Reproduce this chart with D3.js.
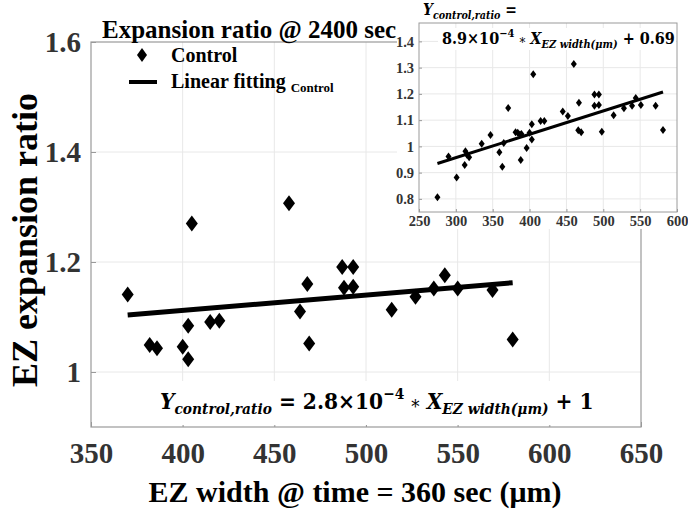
<!DOCTYPE html>
<html>
<head>
<meta charset="utf-8">
<script src="https://cdn.jsdelivr.net/npm/d3@7"></script>
<style>
  body { margin: 0; background: #fff; }
  text { white-space: pre; }
</style>
</head>
<body>
<svg id="chart"></svg>
<script>
// main plot: EZ width at 360 s vs expansion ratio at 2400 s
var ezWidth = [370, 382, 386, 400, 403, 403, 405, 415, 420, 458, 464, 468,
  469, 487, 488, 493, 493, 514, 527, 537, 543, 550, 569, 580];
var expRatio = [1.141, 1.049, 1.043, 1.046, 1.084, 1.023, 1.270, 1.091, 1.093,
  1.307, 1.110, 1.160, 1.052, 1.191, 1.153, 1.191, 1.155, 1.113, 1.137, 1.152,
  1.176, 1.152, 1.149, 1.059];
var fitSlope = 2.8e-4, fitIntercept = 1;
var xTicks = [350, 400, 450, 500, 550, 600, 650];
var yTicks = [1, 1.2, 1.4, 1.6];

// inset: all samples
var insetWidth = [275, 290, 301, 312, 313, 315, 318, 335, 347, 359, 363, 365,
  371, 381, 384, 387, 389, 388, 396, 400, 403, 403, 405, 415, 420, 445, 452,
  460, 467, 466, 470, 488, 494, 488, 494, 498, 514, 528, 539, 544, 551, 571, 581];
var insetRatio = [0.806, 0.961, 0.881, 0.929, 0.981, 0.968, 0.959, 1.010, 1.043,
  0.978, 0.922, 1.013, 1.146, 1.054, 1.052, 1.045, 1.047, 0.948, 0.994, 1.052,
  1.084, 1.026, 1.275, 1.097, 1.097, 1.133, 1.116, 1.314, 1.166, 1.061, 1.054,
  1.198, 1.198, 1.155, 1.158, 1.056, 1.119, 1.145, 1.155, 1.184, 1.158, 1.155, 1.062];
var insetSlope = 8.9e-4, insetIntercept = 0.69;
var insetXTicks = [250, 300, 350, 400, 450, 500, 550, 600];
var insetYTicks = [0.8, 0.9, 1, 1.1, 1.2, 1.3, 1.4];

var W = 688, H = 512;
var serif = "'Liberation Serif', 'Times New Roman', serif";
var mathFont = "'DejaVu Serif', serif";
var gridColor = "#e8e8e8", boxColor = "#9a9a9a", tickColor = "#333";
var nb = "\u00a0";

var svg = d3.select("#chart").attr("width", W).attr("height", H);

function diamond(w, h) {
  return "M0," + (-h / 2) + "L" + (w / 2) + ",0L0," + (h / 2) + "L" + (-w / 2) + ",0Z";
}

// text made of pieces: {t, size, it, shift}
function mathText(g, x, y, parts, anchor, family) {
  var txt = g.append("text").attr("x", x).attr("y", y)
    .attr("text-anchor", anchor || "start")
    .style("font-family", family || serif).style("font-weight", "bold").attr("fill", "#000");
  var prev = 0;
  parts.forEach(function (p) {
    var s = p.shift || 0;
    txt.append("tspan").attr("dy", s - prev)
      .style("font-size", p.size + "px")
      .style("font-style", p.it ? "italic" : "normal")
      .style("font-weight", p.light ? "normal" : "bold")
      .text(p.t);
    prev = s;
  });
  return txt;
}

// squeeze/stretch a text horizontally so it spans x0..x1
function fitWidth(txt, x0, x1) {
  var w = txt.node().getBBox().width;
  var s = (x1 - x0) / w;
  txt.attr("transform", "translate(" + x0 + ",0) scale(" + s + ",1) translate(" + (-x0) + ",0)");
}

// ---------- main axes ----------
var x = d3.scaleLinear().domain([350, 650]).range([91, 641]);
var y = d3.scaleLinear().domain([0.9, 1.6]).range([427, 42]);

var main = svg.append("g");

main.selectAll(".vgrid").data(xTicks.slice(1, -1)).enter().append("line")
  .attr("x1", function (d) { return x(d); }).attr("x2", function (d) { return x(d); })
  .attr("y1", y.range()[0]).attr("y2", y.range()[1])
  .attr("stroke", gridColor).attr("stroke-width", 1);
main.selectAll(".hgrid").data(yTicks.slice(0, -1)).enter().append("line")
  .attr("x1", x.range()[0]).attr("x2", x.range()[1])
  .attr("y1", function (d) { return y(d); }).attr("y2", function (d) { return y(d); })
  .attr("stroke", gridColor).attr("stroke-width", 1);

var xAxis = main.append("g").attr("transform", "translate(0," + y.range()[0] + ")")
  .call(d3.axisBottom(x).tickValues(xTicks).tickSize(-5).tickPadding(10).tickFormat(d3.format("d")));
var yAxis = main.append("g").attr("transform", "translate(" + x.range()[0] + ",0)")
  .call(d3.axisLeft(y).tickValues(yTicks).tickSize(-5).tickPadding(10).tickFormat(function (d) { return d === 1 ? "1" : d3.format(".1f")(d); }));
[xAxis, yAxis].forEach(function (a) {
  a.select(".domain").remove();
  a.selectAll("line").attr("stroke", boxColor);
  a.selectAll("text").style("font-family", serif).style("font-weight", "bold")
    .style("font-size", "29px").attr("fill", tickColor);
});
xAxis.selectAll("text").attr("dy", "0.9em");

main.append("rect")
  .attr("x", x.range()[0]).attr("y", y.range()[1])
  .attr("width", x.range()[1] - x.range()[0]).attr("height", y.range()[0] - y.range()[1])
  .attr("fill", "none").attr("stroke", boxColor).attr("stroke-width", 1.2);

// equation box sits over the grid
main.append("rect").attr("x", 150).attr("y", 381).attr("width", 458).attr("height", 44).attr("fill", "#fff");

main.append("line")
  .attr("x1", x(d3.min(ezWidth))).attr("y1", y(fitSlope * d3.min(ezWidth) + fitIntercept))
  .attr("x2", x(d3.max(ezWidth))).attr("y2", y(fitSlope * d3.max(ezWidth) + fitIntercept))
  .attr("stroke", "#000").attr("stroke-width", 5);

main.selectAll(".dot").data(ezWidth).enter().append("path")
  .attr("d", diamond(12, 16))
  .attr("transform", function (d, i) { return "translate(" + x(d) + "," + y(expRatio[i]) + ")"; })
  .attr("fill", "#000");

var eq = mathText(main, 160, 409, [
  { t: "Y", size: 22, it: true },
  { t: "control,ratio", size: 15, it: true, shift: 5 },
  { t: " = 2.8×10", size: 22 },
  { t: "−4", size: 15, shift: -10 },
  { t: nb, size: 22 },
  { t: "*", size: 18, light: true, shift: 4 },
  { t: nb, size: 22 },
  { t: "X", size: 22, it: true },
  { t: "EZ width(μm)", size: 15, it: true, shift: 5 },
  { t: " + 1", size: 22 }
], "start", mathFont);
fitWidth(eq, 160, 594);

// legend
main.append("path").attr("d", diamond(10, 14)).attr("transform", "translate(142,55)").attr("fill", "#000");
main.append("line").attr("x1", 129).attr("x2", 157).attr("y1", 82).attr("y2", 82)
  .attr("stroke", "#000").attr("stroke-width", 4);
mathText(main, 171, 62, [{ t: "Control", size: 20 }]);
mathText(main, 171, 88, [{ t: "Linear fitting ", size: 20 }, { t: "Control", size: 13, shift: 4 }]);

// titles
mathText(svg, 102, 38, [{ t: "Expansion ratio @ 2400 sec", size: 25 }]);
mathText(svg, 355, 502, [{ t: "EZ width @ time = 360 sec (μm)", size: 30 }], "middle");
svg.append("text")
  .attr("transform", "translate(37,240) rotate(-90)")
  .attr("text-anchor", "middle")
  .style("font-family", serif).style("font-weight", "bold").style("font-size", "36px")
  .text("EZ expansion ratio");

// ---------- inset ----------
var ix = d3.scaleLinear().domain([250, 600]).range([419, 677]);
var iy = d3.scaleLinear().domain([0.75, 1.47]).range([212, 23]);
var inset = svg.append("g");

inset.append("rect").attr("x", 397).attr("y", 0).attr("width", W - 397).attr("height", 229).attr("fill", "#fff");

inset.selectAll(".vgrid").data(insetXTicks.slice(1, -1)).enter().append("line")
  .attr("x1", function (d) { return ix(d); }).attr("x2", function (d) { return ix(d); })
  .attr("y1", iy.range()[0]).attr("y2", iy.range()[1])
  .attr("stroke", gridColor);
inset.selectAll(".hgrid").data(insetYTicks).enter().append("line")
  .attr("x1", ix.range()[0]).attr("x2", ix.range()[1])
  .attr("y1", function (d) { return iy(d); }).attr("y2", function (d) { return iy(d); })
  .attr("stroke", gridColor);

var ixAxis = inset.append("g").attr("transform", "translate(0," + iy.range()[0] + ")")
  .call(d3.axisBottom(ix).tickValues(insetXTicks).tickSize(-3).tickPadding(4).tickFormat(d3.format("d")));
var iyAxis = inset.append("g").attr("transform", "translate(" + ix.range()[0] + ",0)")
  .call(d3.axisLeft(iy).tickValues(insetYTicks).tickSize(-3).tickPadding(5).tickFormat(function (d) { return d === 1 ? "1" : d3.format(".1f")(d); }));
[ixAxis, iyAxis].forEach(function (a) {
  a.select(".domain").remove();
  a.selectAll("line").attr("stroke", boxColor);
  a.selectAll("text").style("font-family", serif).style("font-weight", "bold")
    .style("font-size", "14.5px").attr("fill", tickColor);
});

inset.append("rect")
  .attr("x", ix.range()[0]).attr("y", iy.range()[1])
  .attr("width", ix.range()[1] - ix.range()[0]).attr("height", iy.range()[0] - iy.range()[1])
  .attr("fill", "none").attr("stroke", boxColor);

inset.append("rect").attr("x", 438).attr("y", 28).attr("width", 238).attr("height", 22).attr("fill", "#fff");

inset.append("line")
  .attr("x1", ix(d3.min(insetWidth))).attr("y1", iy(insetSlope * d3.min(insetWidth) + insetIntercept))
  .attr("x2", ix(d3.max(insetWidth))).attr("y2", iy(insetSlope * d3.max(insetWidth) + insetIntercept))
  .attr("stroke", "#000").attr("stroke-width", 3);

inset.selectAll(".dot").data(insetWidth).enter().append("path")
  .attr("d", diamond(6, 8))
  .attr("transform", function (d, i) { return "translate(" + ix(d) + "," + iy(insetRatio[i]) + ")"; })
  .attr("fill", "#000");

var ieq1 = mathText(inset, 423, 15, [
  { t: "Y", size: 16, it: true },
  { t: "control,ratio", size: 11, it: true, shift: 4 },
  { t: " =", size: 16 }
], "start", mathFont);
fitWidth(ieq1, 423, 517);
var ieq2 = mathText(inset, 442, 44, [
  { t: "8.9×10", size: 16 },
  { t: "−4", size: 11, shift: -7 },
  { t: nb, size: 16 },
  { t: "*", size: 13, light: true, shift: 3 },
  { t: nb, size: 16 },
  { t: "X", size: 16, it: true },
  { t: "EZ width(μm)", size: 11, it: true, shift: 4 },
  { t: " + 0.69", size: 16 }
], "start", mathFont);
fitWidth(ieq2, 442, 675);
</script>
</body>
</html>
